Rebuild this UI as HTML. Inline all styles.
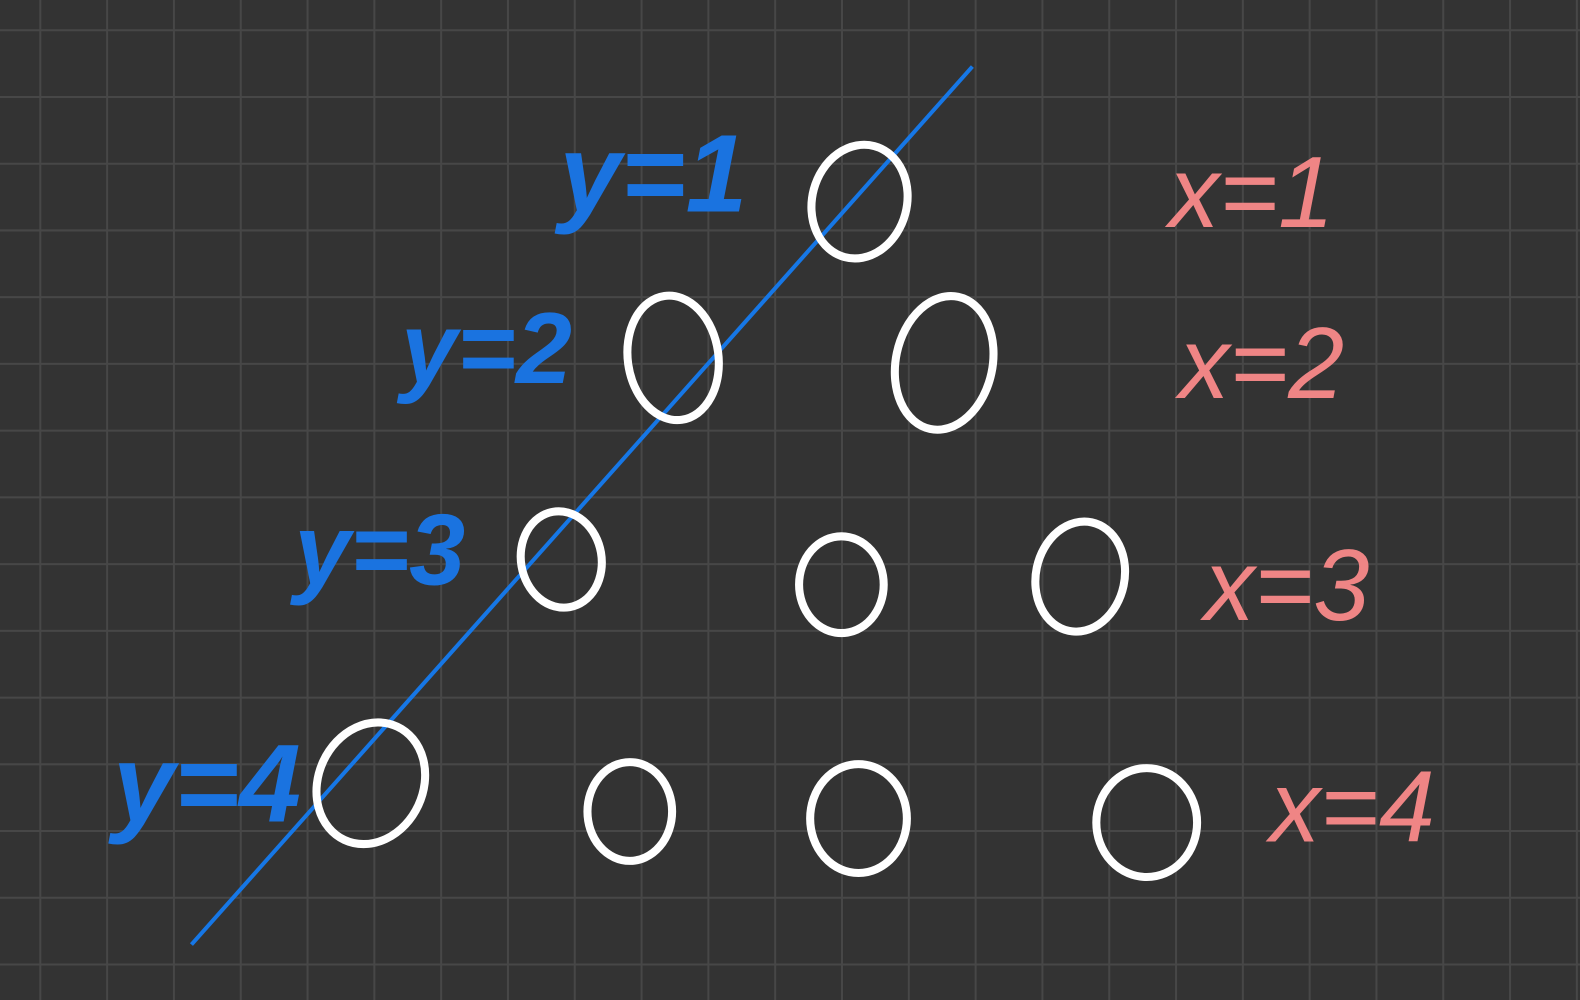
<!DOCTYPE html>
<html><head><meta charset="utf-8">
<style>
html,body{margin:0;padding:0;background:#333333;overflow:hidden}
svg{display:block}
.c{fill:none;stroke:#fff;stroke-width:8}
.b{fill:#1a73e0;font-family:"Liberation Sans",sans-serif;font-style:italic;font-weight:bold}
.p{fill:#ef8585;font-family:"Liberation Sans",sans-serif;font-style:italic}
</style></head>
<body>
<svg width="1580" height="1000" viewBox="0 0 1568 992" preserveAspectRatio="none" xmlns="http://www.w3.org/2000/svg">
<rect width="1568" height="992" fill="#333333"/>
<g id="grid" stroke="#474747" stroke-width="2"></g>
<line x1="190" y1="937" x2="965" y2="66" stroke="#1677e6" stroke-width="4"/>
<g>
<ellipse class="c" cx="853" cy="200" rx="47" ry="57" transform="rotate(15 853 200)"/>
<ellipse class="c" cx="668" cy="355" rx="45" ry="62" transform="rotate(-8 668 355)"/>
<ellipse class="c" cx="937" cy="360" rx="48" ry="67" transform="rotate(12 937 360)"/>
<ellipse class="c" cx="557" cy="555" rx="40" ry="48" transform="rotate(-10 557 555)"/>
<ellipse class="c" cx="835" cy="580" rx="42" ry="48"/>
<ellipse class="c" cx="1072" cy="572" rx="44" ry="55" transform="rotate(12 1072 572)"/>
<ellipse class="c" cx="368" cy="777" rx="52" ry="62" transform="rotate(25 368 777)"/>
<ellipse class="c" cx="625" cy="805" rx="42" ry="49"/>
<ellipse class="c" cx="852" cy="812" rx="48" ry="54"/>
<ellipse class="c" cx="1138" cy="816" rx="50" ry="54"/>
</g>
<g>
<text class="b" x="555" y="210" font-size="110">y=1</text>
<text class="b" x="398" y="380" font-size="100">y=2</text>
<text class="b" x="292" y="580" font-size="100">y=3</text>
<text class="b" x="112" y="815" font-size="110">y=4</text>
</g>
<g>
<text class="p" x="1160" y="225" font-size="100">x=1</text>
<text class="p" x="1170" y="395" font-size="100">x=2</text>
<text class="p" x="1195" y="615" font-size="100">x=3</text>
<text class="p" x="1260" y="835" font-size="100">x=4</text>
</g>
</svg>
<script>
var g=document.getElementById('grid');
var ns='http://www.w3.org/2000/svg';
for(var x=40;x<1568;x+=66.3){var l=document.createElementNS(ns,'line');


l.setAttribute('x1',x);l.setAttribute('x2',x);l.setAttribute('y1',0);l.setAttribute('y2',992);g.appendChild(l);}
for(var y=30;y<992;y+=66.2){var l2=document.createElementNS(ns,'line');


l2.setAttribute('y1',y);l2.setAttribute('y2',y);l2.setAttribute('x1',0);l2.setAttribute('x2',1568);g.appendChild(l2);}
</script>
</body></html>
